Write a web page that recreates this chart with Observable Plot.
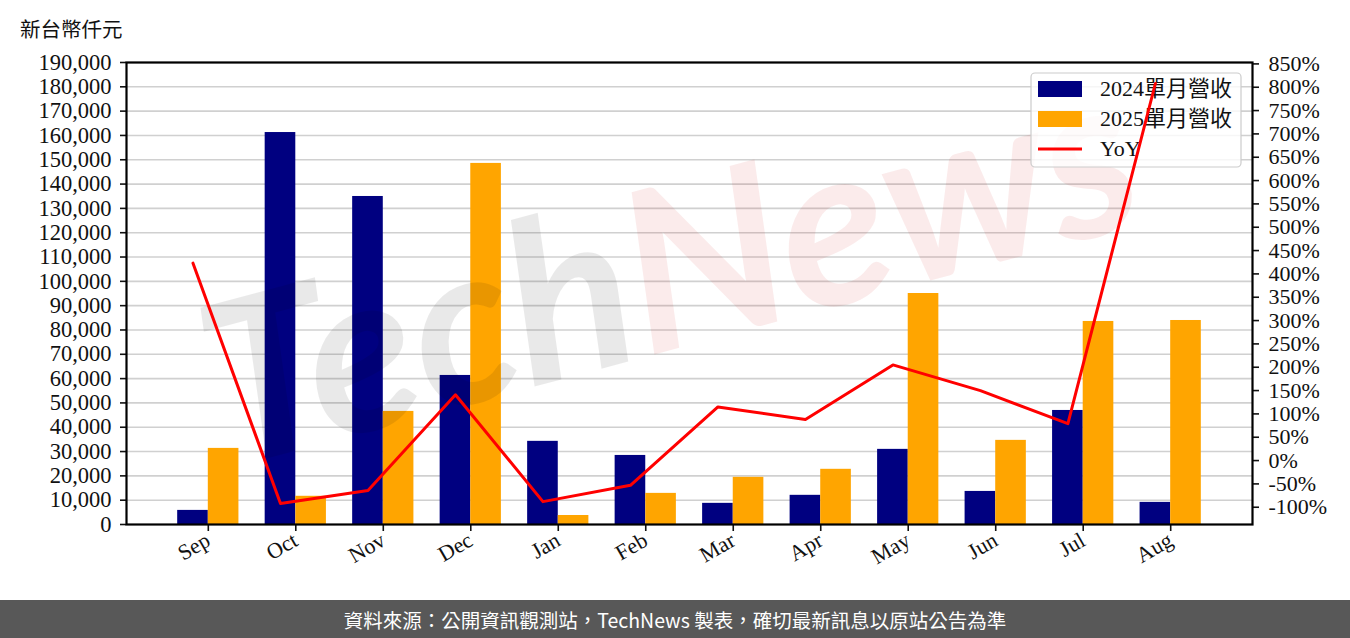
<!DOCTYPE html>
<html>
<head>
<meta charset="utf-8">
<script src="https://cdn.jsdelivr.net/npm/d3@7"></script>
<script src="https://cdn.jsdelivr.net/npm/@observablehq/plot@0.6"></script>
<style>
  html, body { margin: 0; padding: 0; background: #fff; }
  #wrap { position: relative; width: 1350px; height: 600px; }
  #unit { position: absolute; left: 20px; top: 13px; font-family: "Noto Sans CJK TC", sans-serif; font-size: 20.5px; color: #111; }
  #footer { width: 1350px; height: 38px; background: #585858; color: #fff; font-family: "Noto Sans CJK TC", sans-serif; font-size: 19.5px; display: flex; align-items: center; justify-content: center; }
</style>
</head>
<body>
<div id="wrap"><div id="unit">新台幣仟元</div></div>
<div id="footer">資料來源：公開資訊觀測站，TechNews 製表，確切最新訊息以原站公告為準</div>
<script>
const months = ["Sep", "Oct", "Nov", "Dec", "Jan", "Feb", "Mar", "Apr", "May", "Jun", "Jul", "Aug"];
const rev2024 = [5800, 161200, 134900, 61300, 34200, 28400, 8700, 12000, 30900, 13600, 46900, 9100];
const rev2025 = [31300, 11600, 46500, 148500, 3700, 12800, 19400, 22700, 95000, 34600, 83500, 83900];
const yoyPct = [423, -92, -64, 141, -88, -53, 115, 88, 205, 150, 79, 808];
const seriesNames = ["2024單月營收", "2025單月營收", "YoY"];
const leftTicks = d3.range(0, 190001, 10000);
const rightTicks = d3.range(-100, 851, 50);

const yMax = 190000;
const pctDomain = [-137, 853];
const toLeft = p => (p - pctDomain[0]) / (pctDomain[1] - pctDomain[0]) * yMax;
const fromLeft = v => v / yMax * (pctDomain[1] - pctDomain[0]) + pctDomain[0];

const data = months.map((m, i) => ({i, m, a: rev2024[i], b: rev2025[i], yoy: yoyPct[i]}));
const serif = "'Liberation Serif', 'Noto Sans CJK TC', serif";

const chart = Plot.plot({
  width: 1350,
  height: 600,
  marginTop: 62,
  marginBottom: 76,
  marginLeft: 126,
  marginRight: 98,
  x: {type: "linear", domain: [-0.935, 11.935], axis: null},
  y: {domain: [0, yMax], axis: null},
  style: {fontFamily: serif, fontSize: "22px", color: "#111", background: "transparent"},
  marks: [
    Plot.gridY(leftTicks.slice(1), {stroke: "#d0d0d0", strokeOpacity: 1, strokeWidth: 1.6}),
    Plot.rectY(data, {x1: d => d.i - 0.35, x2: d => d.i, y1: 0, y2: "a", fill: "#000080"}),
    Plot.rectY(data, {x1: d => d.i, x2: d => d.i + 0.35, y1: 0, y2: "b", fill: "#FFA500"}),
    Plot.axisY(leftTicks, {anchor: "left", tickFormat: d3.format(","), tickSize: 6, tickPadding: 9, strokeWidth: 1.6, fontSize: 22.5, label: null}),
    Plot.axisY(rightTicks.map(toLeft), {anchor: "right", tickFormat: v => Math.round(fromLeft(v)) + "%", tickSize: 6, tickPadding: 10, strokeWidth: 1.6, fontSize: 22, label: null}),
    Plot.axisX(d3.range(12), {anchor: "bottom", tickFormat: i => months[i], tickRotate: -30, tickSize: 7, tickPadding: 7, strokeWidth: 1.6, fontSize: 22, label: null}),
    Plot.frame({stroke: "#000", strokeWidth: 2.2}),
    Plot.line(data, {x: d => d.i - 0.175, y: d => toLeft(d.yoy), stroke: "#ff0000", strokeWidth: 3})
  ]
});

document.getElementById("wrap").appendChild(chart);
const svg = d3.select(chart);

// watermark (under the legend and YoY line, translucent over the bars)
const wm = svg.append("g").attr("class", "watermark").attr("transform", "translate(690,345) rotate(-15)")
  .attr("font-family", "Lato, sans-serif").attr("font-style", "italic").attr("font-weight", "bold").attr("font-size", 225)
  .attr("pointer-events", "none");
const t = wm.append("text").attr("text-anchor", "middle");
t.append("tspan").attr("fill", "#000").attr("fill-opacity", 0.085).text("Tech");
t.append("tspan").attr("fill", "#d00000").attr("fill-opacity", 0.08).text("News");

// legend (drawn beneath the YoY line, like the secondary axes in the source)
const lg = svg.append("g").attr("class", "legend").attr("text-anchor", "start");
lg.append("rect").attr("x", 1031).attr("y", 73).attr("width", 210).attr("height", 94).attr("rx", 4)
  .attr("fill", "#fff").attr("fill-opacity", 0.8).attr("stroke", "#cccccc").attr("stroke-width", 1.2);
const legendColors = ["#000080", "#FFA500", "#ff0000"];
seriesNames.forEach((name, k) => {
  const cy = 89 + k * 30;
  if (k < 2) {
    lg.append("rect").attr("x", 1038).attr("y", cy - 8).attr("width", 44).attr("height", 16).attr("fill", legendColors[k]);
  } else {
    lg.append("line").attr("x1", 1038).attr("x2", 1082).attr("y1", cy).attr("y2", cy).attr("stroke", legendColors[k]).attr("stroke-width", 3);
  }
  lg.append("text").attr("x", 1100).attr("y", cy + 7).attr("text-anchor", "start").attr("font-family", serif).attr("font-size", 22).attr("fill", "#111").text(name);
});
svg.selectAll("g[aria-label='line']").raise();
</script>
</body>
</html>
